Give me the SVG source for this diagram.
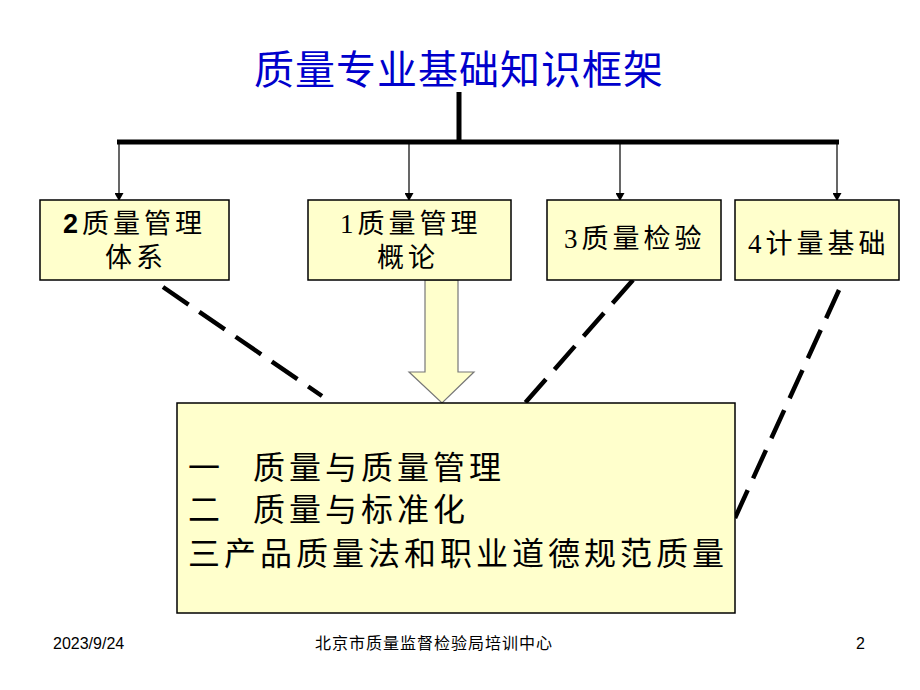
<svg xmlns="http://www.w3.org/2000/svg" width="920" height="690" viewBox="0 0 920 690">
<defs>
<marker id="ah" markerWidth="8" markerHeight="9" refX="7" refY="4.5" orient="auto" markerUnits="userSpaceOnUse">
<path d="M0,0 L8,4.5 L0,9 Z" fill="#000"/>
</marker>
<style>
.box{fill:#FFFFCC;stroke:#000;stroke-width:1.5}
.t{font-family:"Liberation Serif","Noto Sans CJK SC",serif;font-size:27px;fill:#000;letter-spacing:4px}
.kt{font-family:"Liberation Serif","Noto Sans CJK SC",serif;font-size:32px;fill:#000;letter-spacing:4px}
.dash{stroke:#000;stroke-width:4.5;stroke-dasharray:31 13;fill:none}
.drop{stroke:#000;stroke-width:1.2;fill:none}
.foot{font-family:"Liberation Sans","Noto Sans CJK SC",sans-serif;font-size:16px;fill:#000}
</style>
</defs>
<rect width="920" height="690" fill="#fff"/>
<text x="459" y="84" text-anchor="middle" font-family="'Noto Sans CJK SC',sans-serif" font-size="40" fill="#0000CC" letter-spacing="1">质量专业基础知识框架</text>

<g id="connectors">
<line x1="459" y1="92" x2="459" y2="142" stroke="#000" stroke-width="5"/>
<line x1="117" y1="142" x2="839" y2="142" stroke="#000" stroke-width="5"/>
<line class="drop" x1="119" y1="144" x2="119" y2="200" marker-end="url(#ah)"/>
<line class="drop" x1="409" y1="144" x2="409" y2="200" marker-end="url(#ah)"/>
<line class="drop" x1="620" y1="144" x2="620" y2="200" marker-end="url(#ah)"/>
<line class="drop" x1="837" y1="144" x2="837" y2="200" marker-end="url(#ah)"/>
<line class="dash" x1="163" y1="287" x2="322" y2="396"/>
<line class="dash" x1="633" y1="280" x2="525" y2="403"/>
<line class="dash" x1="839" y1="290" x2="735" y2="518"/>
<path d="M425,280 L458,280 L458,372 L474,372 L442,403 L409,372 L425,372 Z" fill="#FFFFCC" stroke="#777" stroke-width="1.2"/>
</g>

<g id="node-2">
<rect class="box" x="40" y="200" width="189" height="80"/>
<text class="t" x="63" y="233"><tspan font-family="'Liberation Sans',sans-serif" font-weight="bold">2</tspan>质量管理</text>
<text class="t" x="105" y="267">体系</text>
</g>
<g id="node-1">
<rect class="box" x="308" y="200" width="203" height="80"/>
<text class="t" x="340" y="233">1质量管理</text>
<text class="t" x="377" y="267">概论</text>
</g>
<g id="node-3">
<rect class="box" x="547" y="200" width="174" height="80"/>
<text class="t" x="564" y="248">3质量检验</text>
</g>
<g id="node-4">
<rect class="box" x="735" y="200" width="164" height="80"/>
<text class="t" x="748" y="253">4计量基础</text>
</g>
<g id="node-content">
<rect class="box" x="177" y="403" width="558" height="210"/>
<text class="kt" y="479"><tspan x="188">一</tspan><tspan x="253">质量与质量管理</tspan></text>
<text class="kt" y="521"><tspan x="188">二</tspan><tspan x="253">质量与标准化</tspan></text>
<text class="kt" x="188" y="565">三产品质量法和职业道德规范质量</text>
</g>

<text class="foot" x="53" y="649" font-size="15">2023/9/24</text>
<text class="foot" x="315" y="649" letter-spacing="1">北京市质量监督检验局培训中心</text>
<text class="foot" x="856" y="649">2</text>
</svg>
